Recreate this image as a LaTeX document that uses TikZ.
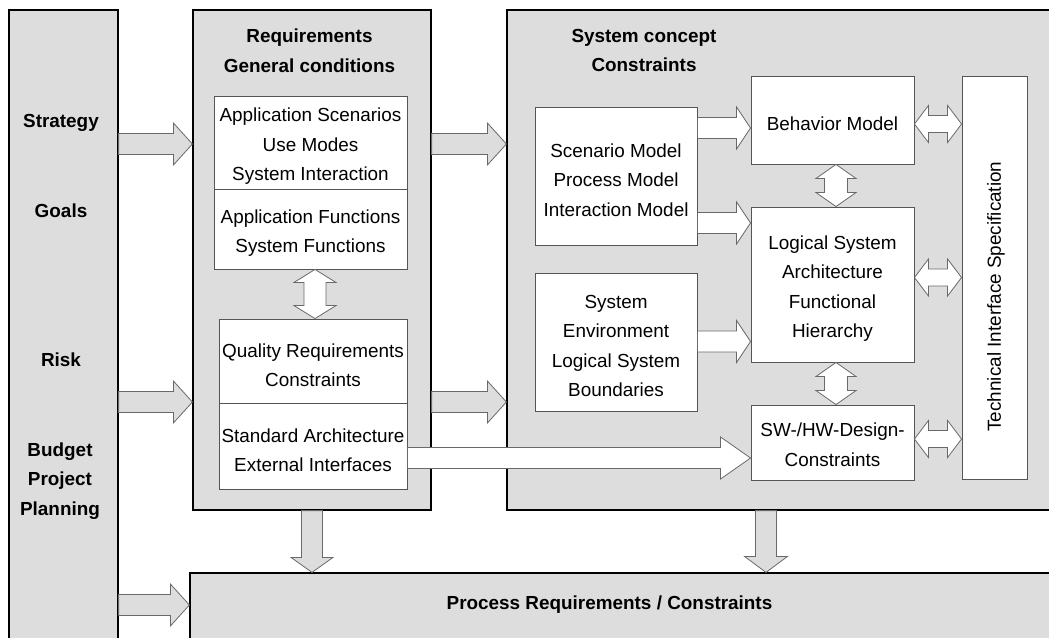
\documentclass[tikz,border=0pt]{standalone}
\usepackage{fontspec}
\setmainfont{Liberation Sans}
\usetikzlibrary{calc}

\definecolor{panelgray}{RGB}{221,221,221}
\definecolor{boxline}{RGB}{85,85,85}
\definecolor{arrowline}{RGB}{105,105,105}

\tikzset{
	fatarrow/.style n args={3}{to path={coordinate (bs) (\tikztotarget) coordinate (bt)
		($(bt)!#3!(bs)$) coordinate (bh)
		($(bs)!#1!90:(bt)$) -- ($(bh)!#1!-90:(bs)$) -- ($(bh)!#2!-90:(bs)$) -- (bt)
		-- ($(bh)!#2!90:(bs)$) -- ($(bh)!#1!90:(bs)$) -- ($(bs)!#1!-90:(bt)$) -- cycle}},
	fatdouble/.style n args={3}{to path={coordinate (bs) (\tikztotarget) coordinate (bt)
		($(bt)!#3!(bs)$) coordinate (bh) ($(bs)!#3!(bt)$) coordinate (bk)
		(bs) -- ($(bk)!#2!90:(bt)$) -- ($(bk)!#1!90:(bt)$) -- ($(bh)!#1!-90:(bs)$) -- ($(bh)!#2!-90:(bs)$) -- (bt)
		-- ($(bh)!#2!90:(bs)$) -- ($(bh)!#1!90:(bs)$) -- ($(bk)!#1!-90:(bt)$) -- ($(bk)!#2!-90:(bt)$) -- cycle}}
}

\begin{document}
\begin{tikzpicture}[x=1pt, y=-1pt,
		panel/.style={rectangle, draw=black, line width=1.2pt, fill=panelgray, inner sep=0pt},
		box/.style={rectangle, draw=boxline, line width=0.9pt, fill=white, inner sep=0pt},
		boxtext/.style={align=center, yshift=-4pt, font=\fontsize{18.9}{29.5}\selectfont},
		head/.style={align=center, font=\fontsize{18.9}{29.5}\selectfont\bfseries},
		grayarrow/.style={draw=arrowline, line width=0.8pt, fill=panelgray, fatarrow={10.5pt}{21pt}{19pt}},
		whitearrow/.style={draw=arrowline, line width=0.8pt, fill=white, fatarrow={10.5pt}{21pt}{14pt}},
		dblarrow/.style n args={3}{draw=arrowline, line width=0.8pt, fill=white, fatdouble={#1}{#2}{#3}}]
		    \begin{scope}
					\useasboundingbox (0,0) rectangle (1049,637);
					\clip (0,0) rectangle (1049,637);

					\node[panel, minimum width=109pt, minimum height=660pt] (col) at (63.5,340) {};
					\node[panel, minimum width=238pt, minimum height=500pt] (req) at (312,260) {};
					\node[panel, minimum width=600pt, minimum height=500pt] (sys) at (807,260) {};
					\node[panel, minimum width=910pt, minimum height=130pt] (proc) at (645,638) {};

					\coordinate (ya) at (0,144);
					\coordinate (yb) at (0,402);
					\coordinate (xb) at (766,0);

					\node[head] (prochead) at (609.5,605) {Process Requirements / Constraints};

					\draw[grayarrow] (col.east |- ya) to (req.west |- ya); % strategy -> requirements
					\draw[grayarrow] (req.east |- ya) to (sys.west |- ya); % requirements -> concept
					\draw[grayarrow] (col.east |- yb) to (req.west |- yb); % risk -> requirements
					\draw[grayarrow] (req.east |- yb) to (sys.west |- yb); % requirements -> concept
					\draw[grayarrow] (col.east |- prochead) to (proc.west |- prochead); % planning -> process
					\draw[grayarrow, fatarrow={10.5pt}{21pt}{15pt}] (req.south) to (req.south |- proc.north); % requirements -> process
					\draw[grayarrow, fatarrow={10.5pt}{21.5pt}{16pt}] (sys.south -| xb) to (proc.north -| xb); % concept -> process

					\node[box, minimum width=193pt, minimum height=93pt] (asc) at (310.5,142.5) {};
					\node[box, minimum width=193pt, minimum height=80pt] (afn) at (310.5,229) {};
					\node[box, minimum width=188pt, minimum height=84pt] (qrc) at (313,361) {};
					\node[box, minimum width=188pt, minimum height=86pt] (sae) at (313,446) {};
					\node[boxtext] (asctext) at (asc) {Application Scenarios\\Use Modes\\System Interaction};
					\node[boxtext] (afntext) at (afn) {Application Functions\\System Functions};
					\node[boxtext] (qrctext) at (qrc) {Quality Requirements\\Constraints};
					\node[boxtext] (saetext) at (sae) {Standard Architecture\\External Interfaces};

					\node[box, minimum width=162pt, minimum height=138pt] (scn) at (616,176) {};
					\node[box, minimum width=162pt, minimum height=138pt] (env) at (616,342) {};
					\node[box, minimum width=163pt, minimum height=88pt] (bhv) at (832.5,120) {};
					\node[box, minimum width=163pt, minimum height=155pt] (lsa) at (832.5,284.5) {};
					\node[box, minimum width=163pt, minimum height=75pt] (swhw) at (832.5,442.5) {};
					\node[box, minimum width=65pt, minimum height=403pt] (tis) at (994.5,277.5) {};
					\node[boxtext] (scntext) at (scn) {Scenario Model\\Process Model\\Interaction Model};
					\node[boxtext] (envtext) at (env) {System\\Environment\\Logical System\\Boundaries};
					\node[boxtext] (bhvtext) at (bhv) {Behavior Model};
					\node[boxtext] (lsatext) at (lsa) {Logical System\\Architecture\\Functional\\Hierarchy};
					\node[boxtext, yshift=2pt] (swhwtext) at (swhw) {SW-/HW-Design-\\Constraints};
					\node[rotate=90, font=\fontsize{18.9}{29.5}\selectfont] (tistext) at (996,296.5) {Technical Interface Specification};

					\coordinate (yc) at (0,128);
					\coordinate (yd) at (0,223);
					\coordinate (ye) at (0,341.5);
					\coordinate (yf) at (0,458);
					\coordinate (yg) at (0,124);
					\coordinate (yh) at (0,439);
					\coordinate (xc) at (315,0);
					\coordinate (xd) at (836,0);

					\draw[whitearrow] (scn.east |- yc) to (bhv.west |- yc); % scenario -> behavior
					\draw[whitearrow] (scn.east |- yd) to (lsa.west |- yd); % scenario -> logical
					\draw[whitearrow] (env.east |- ye) to (lsa.west |- ye); % environment -> logical
					\draw[whitearrow, fatarrow={10.5pt}{21pt}{30pt}] (sae.east |- yf) to (swhw.west |- yf); % interfaces -> design

					\draw[dblarrow={11pt}{21pt}{13pt}] (afn.south -| xc) to (qrc.north -| xc); % functions <-> quality
					\draw[dblarrow={11.5pt}{20pt}{14pt}] (bhv.south -| xd) to (lsa.north -| xd); % behavior <-> logical
					\draw[dblarrow={11.5pt}{20pt}{14pt}] (lsa.south -| xd) to (swhw.north -| xd); % logical <-> design
					\draw[dblarrow={8.5pt}{18.5pt}{14pt}] (bhv.east |- yg) to (tis.west |- yg); % behavior <-> interface
					\draw[dblarrow={8.5pt}{18.5pt}{14pt}] (lsa.east |- tis.west) to (tis.west); % logical <-> interface
					\draw[dblarrow={8.5pt}{18.5pt}{14pt}] (swhw.east |- yh) to (tis.west |- yh); % design <-> interface

					\node[head] (strat) at (61,122.5) {Strategy};
					\node[head] (goals) at (61,211) {Goals};
					\node[head] (risk) at (61,360) {Risk};
					\node[head] (budget) at (60,481) {Budget\\Project\\Planning};
					\node[head] (reqhead) at (309.5,50.5) {Requirements\\General conditions};
					\node[head] (syshead) at (644,50.5) {System concept\\Constraints};

		    \end{scope}
		  \end{tikzpicture}
\end{document}
